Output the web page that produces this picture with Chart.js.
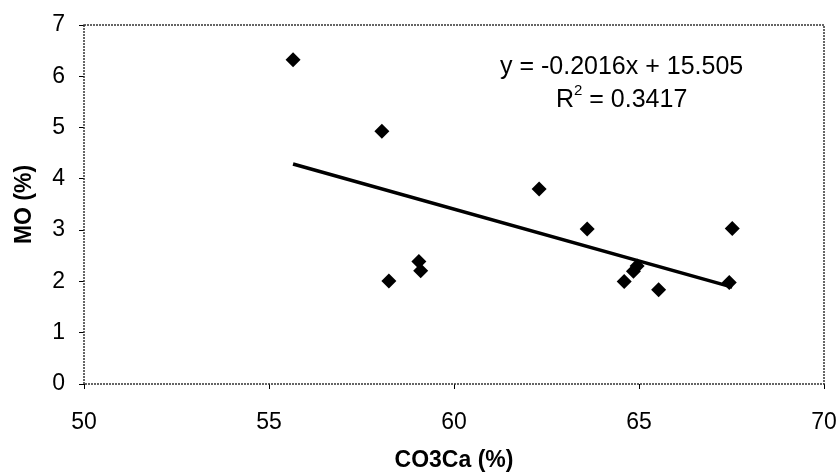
<!DOCTYPE html>
<html>
<head>
<meta charset="utf-8">
<script src="https://cdn.jsdelivr.net/npm/chart.js@4/dist/chart.umd.min.js"></script>
<style>
  html, body { margin: 0; padding: 0; background: #fff; }
  #wrap { width: 839px; height: 475px; position: relative; }
</style>
</head>
<body>
<div id="wrap"><canvas id="c" width="839" height="475"></canvas></div>
<script>
// Data
const co3caValues = [55.65, 58.05, 58.24, 59.05, 59.10, 62.30, 63.60, 64.60, 64.85, 64.95, 65.53, 67.44, 67.52];
const moValues    = [6.32, 4.93, 2.01, 2.39, 2.21, 3.80, 3.02, 2.00, 2.20, 2.30, 1.84, 1.98, 3.03];
const trendX = [55.65, 67.52];
const trendY = [4.29, 1.89];
const xTickValues = [50, 55, 60, 65, 70];
const yTickValues = [0, 1, 2, 3, 4, 5, 6, 7];
const equationText = 'y = -0.2016x + 15.505';
const r2Label = 'R';
const r2Value = ' = 0.3417';
const xTitle = 'CO3Ca (%)';
const yTitle = 'MO (%)';

const FONT = '"Liberation Sans", Arial, sans-serif';

const scatterPoints = co3caValues.map((x, i) => ({ x: x, y: moValues[i] }));
const trendPoints = trendX.map((x, i) => ({ x: x, y: trendY[i] }));

const borderPlugin = {
  id: 'plotBorder',
  beforeDatasetsDraw(chart) {
    const { ctx, chartArea: a } = chart;
    ctx.save();
    ctx.strokeStyle = '#333';
    ctx.lineWidth = 1.5;
    ctx.setLineDash([2, 1]);
    ctx.strokeRect(a.left, a.top, a.right - a.left, a.bottom - a.top);
    ctx.restore();
  }
};

const annotationPlugin = {
  id: 'equation',
  afterDraw(chart) {
    const { ctx } = chart;
    const xs = chart.scales.x, ys = chart.scales.y;
    const cx = xs.getPixelForValue(64.53);
    ctx.save();
    ctx.fillStyle = '#000';
    ctx.textBaseline = 'middle';
    ctx.textAlign = 'center';
    ctx.font = '25px ' + FONT;
    ctx.fillText(equationText, cx, ys.getPixelForValue(6.18));
    // R^2 line
    const y2 = ys.getPixelForValue(5.53);
    const wR = ctx.measureText(r2Label).width;
    const wV = ctx.measureText(r2Value).width;
    ctx.font = '15px ' + FONT;
    const wS = ctx.measureText('2').width;
    const total = wR + wS + wV;
    let left = cx - total / 2;
    ctx.textAlign = 'left';
    ctx.font = '25px ' + FONT;
    ctx.fillText(r2Label, left, y2);
    ctx.font = '15px ' + FONT;
    ctx.fillText('2', left + wR, y2 - 10);
    ctx.font = '25px ' + FONT;
    ctx.fillText(r2Value, left + wR + wS, y2);
    ctx.restore();
  }
};

new Chart(document.getElementById('c'), {
  type: 'scatter',
  data: {
    datasets: [
      {
        label: 'MO',
        data: scatterPoints,
        pointStyle: 'rectRot',
        pointRadius: 7.5,
        pointHoverRadius: 7.5,
        backgroundColor: '#000',
        borderColor: '#000',
        borderWidth: 0,
        order: 2
      },
      {
        label: 'Trend',
        type: 'line',
        data: trendPoints,
        borderColor: '#000',
        borderWidth: 3.5,
        pointRadius: 0,
        fill: false,
        order: 1
      }
    ]
  },
  plugins: [borderPlugin, annotationPlugin],
  options: {
    responsive: false,
    animation: false,
    devicePixelRatio: 1,
    layout: { padding: { left: 0, right: 15, top: 25, bottom: 0 } },
    plugins: {
      legend: { display: false },
      tooltip: { enabled: false }
    },
    scales: {
      x: {
        type: 'linear',
        min: 50,
        max: 70,
        afterBuildTicks(scale) { scale.ticks = xTickValues.map(v => ({ value: v })); },
        afterFit(scale) { scale.height = 91; scale.paddingLeft = 0; scale.paddingRight = 0; },
        grid: { drawOnChartArea: false, drawTicks: true, tickLength: 5, color: '#000', tickColor: '#000' },
        border: { display: false },
        ticks: { color: '#000', padding: 20, font: { family: FONT, size: 23 }, maxRotation: 0 },
        title: { display: true, text: xTitle, color: '#000', font: { family: FONT, size: 23, weight: 'bold' }, padding: { top: 0, bottom: 1 } }
      },
      y: {
        type: 'linear',
        min: 0,
        max: 7,
        afterBuildTicks(scale) { scale.ticks = yTickValues.map(v => ({ value: v })); },
        afterFit(scale) { scale.width = 84; scale.paddingTop = 0; scale.paddingBottom = 0; },
        grid: { drawOnChartArea: false, drawTicks: true, tickLength: 5, color: '#000', tickColor: '#000' },
        border: { display: false },
        ticks: { color: '#000', padding: 14, font: { family: FONT, size: 23 } },
        title: { display: true, text: yTitle, color: '#000', font: { family: FONT, size: 23, weight: 'bold' }, padding: { top: 11, bottom: 0 } }
      }
    }
  }
});
</script>
</body>
</html>
